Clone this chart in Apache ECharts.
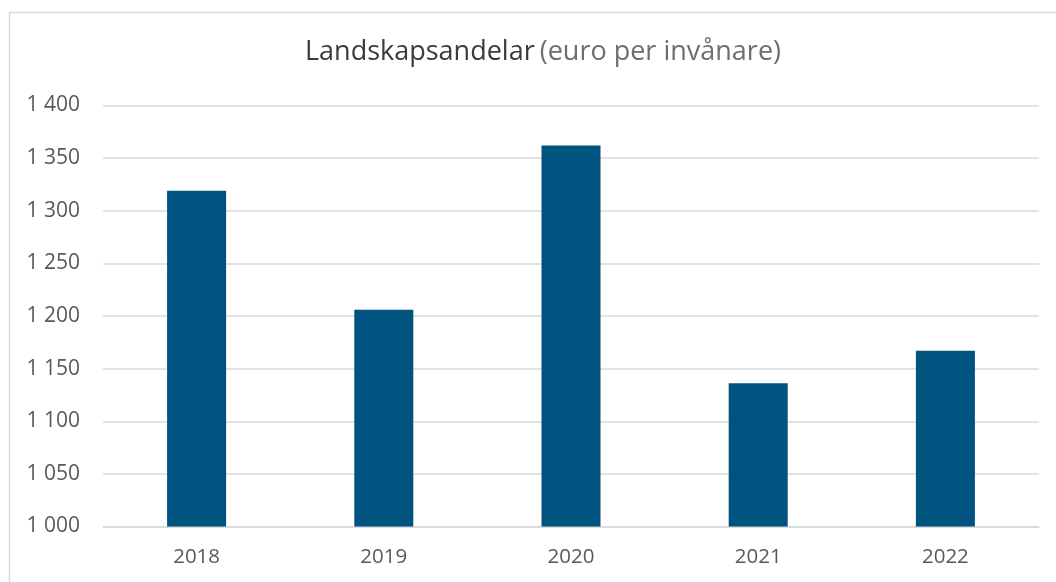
<!DOCTYPE html>
<html>
<head>
<meta charset="utf-8">
<script src="https://cdn.jsdelivr.net/npm/echarts@6/dist/echarts.min.js"></script>
<style>
html,body{margin:0;padding:0;background:#fff;}
#c{width:1056px;height:582px;}
</style>
</head>
<body>
<div id="c"></div>
<script>
var categories = ['2018', '2019', '2020', '2021', '2022'];
var values = [1319, 1206, 1362, 1136, 1167];
var yMin = 1000, yMax = 1400, yStep = 50;

function fmt(v) {
  var s = String(Math.round(v));
  return s.replace(/\B(?=(\d{3})+(?!\d))/g, ' ');
}

var chart = echarts.init(document.getElementById('c'), null, {renderer: 'canvas'});
chart.setOption({
  animation: false,
  backgroundColor: '#ffffff',
  graphic: [{
    type: 'rect',
    shape: {x: 9.5, y: 12.5, width: 1100, height: 700},
    style: {fill: 'none', stroke: '#d9d9d9', lineWidth: 1.5},
    silent: true
  }],
  title: {
    text: '{a|Landskapsandelar} {b|(euro per invånare)}',
    left: 538,
    textAlign: 'center',
    top: 34,
    textStyle: {
      fontWeight: 'normal',
      rich: {
        a: {fontFamily: 'Open Sans', fontSize: 27, fontWeight: 'normal', color: '#3a3a3a'},
        b: {fontFamily: 'Open Sans', fontSize: 27, fontWeight: 'normal', color: '#6e6e6e'}
      }
    }
  },
  grid: {left: 103, right: 17, top: 105.5, bottom: 55.5, containLabel: false},
  xAxis: {
    type: 'category',
    data: categories,
    axisLine: {show: true, lineStyle: {color: '#d9d9d9', width: 1.5}},
    axisTick: {show: false},
    axisLabel: {color: '#595959', fontFamily: 'Open Sans', fontSize: 20.5, margin: 20}
  },
  yAxis: {
    type: 'value',
    min: yMin, max: yMax, interval: yStep,
    axisLine: {show: false},
    axisTick: {show: false},
    splitLine: {lineStyle: {color: '#d9d9d9', width: 1.5}},
    axisLabel: {color: '#595959', fontFamily: 'Open Sans', fontSize: 21, margin: 23, formatter: fmt}
  },
  series: [{
    type: 'bar',
    data: values,
    barWidth: 59,
    itemStyle: {color: '#00527f'}
  }]
});
</script>
</body>
</html>
